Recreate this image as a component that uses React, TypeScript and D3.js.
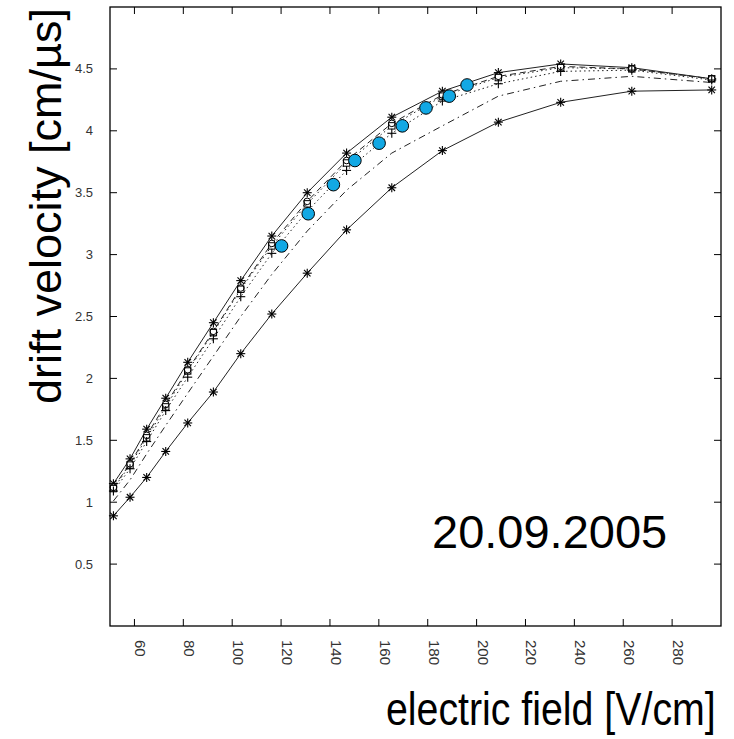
import React from "react";
import * as d3 from "d3";

const fieldValues = [51.4, 58.2, 65.0, 72.8, 81.8, 92.3, 103.5, 116.2, 130.7, 146.8, 165.3, 186.0, 208.9, 234.4, 263.5, 296.2];
const seriesTopStar = [1.15, 1.35, 1.59, 1.84, 2.13, 2.45, 2.79, 3.15, 3.50, 3.82, 4.11, 4.32, 4.47, 4.54, 4.51, 4.42];
const seriesCircle = [1.12, 1.31, 1.54, 1.79, 2.07, 2.38, 2.73, 3.09, 3.43, 3.76, 4.06, 4.29, 4.44, 4.52, 4.50, 4.42];
const seriesSquare = [1.11, 1.30, 1.52, 1.77, 2.06, 2.37, 2.72, 3.07, 3.41, 3.74, 4.04, 4.28, 4.43, 4.51, 4.50, 4.42];
const seriesPlus = [1.09, 1.27, 1.49, 1.74, 2.01, 2.32, 2.66, 3.01, 3.35, 3.68, 3.98, 4.24, 4.38, 4.48, 4.49, 4.41];
const seriesDashDot = [1.01, 1.18, 1.39, 1.62, 1.88, 2.18, 2.50, 2.84, 3.19, 3.52, 3.82, 4.04, 4.28, 4.40, 4.44, 4.39];
const seriesBottomStar = [0.89, 1.04, 1.20, 1.41, 1.64, 1.89, 2.20, 2.52, 2.85, 3.20, 3.54, 3.84, 4.07, 4.23, 4.32, 4.33];

const measuredField = [120.2, 131.1, 141.4, 150.2, 160.1, 169.6, 179.3, 188.8, 196.1];
const measuredVelocity = [3.07, 3.33, 3.565, 3.76, 3.90, 4.04, 4.185, 4.28, 4.37];

const xTicks = [60, 80, 100, 120, 140, 160, 180, 200, 220, 240, 260, 280];
const yTicks = [0.5, 1, 1.5, 2, 2.5, 3, 3.5, 4, 4.5];

const W = 734, H = 739;
const L = 110, R = 721, T = 7, B = 626;
const FONT = "'Liberation Sans', Arial, Helvetica, sans-serif";

type Marker = "star" | "circle" | "square" | "plus" | "none";

const series: { values: number[]; dash: string; marker: Marker }[] = [
  { values: seriesTopStar, dash: "none", marker: "star" },
  { values: seriesCircle, dash: "6,4", marker: "circle" },
  { values: seriesSquare, dash: "1.5,3", marker: "square" },
  { values: seriesPlus, dash: "1.5,3", marker: "plus" },
  { values: seriesDashDot, dash: "7,4,1.5,4", marker: "none" },
  { values: seriesBottomStar, dash: "none", marker: "star" },
];

function MarkerShape({ kind, cx, cy }: { kind: Marker; cx: number; cy: number }) {
  const s = 4.5;
  const st = { stroke: "#000", strokeWidth: 1.1, fill: "none" };
  if (kind === "star") {
    const d = s * 0.72;
    return (
      <g {...st}>
        <line x1={cx} y1={cy - s} x2={cx} y2={cy + s} />
        <line x1={cx - s} y1={cy} x2={cx + s} y2={cy} />
        <line x1={cx - d} y1={cy - d} x2={cx + d} y2={cy + d} />
        <line x1={cx - d} y1={cy + d} x2={cx + d} y2={cy - d} />
      </g>
    );
  }
  if (kind === "plus") {
    return (
      <g {...st}>
        <line x1={cx} y1={cy - s} x2={cx} y2={cy + s} />
        <line x1={cx - s} y1={cy} x2={cx + s} y2={cy} />
      </g>
    );
  }
  if (kind === "circle") {
    return <circle cx={cx} cy={cy} r={3.3} stroke="#000" strokeWidth={1} fill="#fff" />;
  }
  if (kind === "square") {
    return <rect x={cx - 3.2} y={cy - 3.2} width={6.4} height={6.4} stroke="#000" strokeWidth={1} fill="none" />;
  }
  return null;
}

export default function App() {
  const x = d3.scaleLinear().domain([50, 300]).range([L, R]);
  const y = d3.scaleLinear().domain([0, 5]).range([B, T]);
  const line = d3
    .line<number>()
    .x((_, i) => x(fieldValues[i]))
    .y((v) => y(v));

  return (
    <svg
      width={W}
      height={H}
      style={{ position: "absolute", left: 0, top: 0, background: "#fff" }}
      viewBox={`0 0 ${W} ${H}`}
    >
      <rect x={0} y={0} width={W} height={H} fill="#fff" />
      {series.map((s, i) => (
        <path
          key={"l" + i}
          d={line(s.values) || ""}
          fill="none"
          stroke="#222"
          strokeWidth={1}
          strokeDasharray={s.dash === "none" ? undefined : s.dash}
        />
      ))}
      {series.map((s, i) =>
        s.values.map((v, j) => (
          <MarkerShape key={`m${i}-${j}`} kind={s.marker} cx={x(fieldValues[j])} cy={y(v)} />
        ))
      )}
      {measuredField.map((f, i) => (
        <circle
          key={"b" + i}
          cx={x(f)}
          cy={y(measuredVelocity[i])}
          r={6.3}
          fill="#12A8E4"
          stroke="#000"
          strokeWidth={1}
        />
      ))}
      <rect x={L} y={T} width={R - L} height={B - T} fill="none" stroke="#000" strokeWidth={1.3} />
      {xTicks.map((t) => (
        <g key={"xt" + t}>
          <line x1={x(t)} x2={x(t)} y1={B} y2={B - 7} stroke="#000" strokeWidth={1} />
          <line x1={x(t)} x2={x(t)} y1={T} y2={T + 7} stroke="#000" strokeWidth={1} />
          <text
            transform={`translate(${x(t) + 1},${640}) rotate(90)`}
            fontFamily={FONT}
            fontSize={15}
            fill="#333"
            textAnchor="start"
          >
            {t}
          </text>
        </g>
      ))}
      {yTicks.map((t) => (
        <g key={"yt" + t}>
          <line x1={L} x2={L + 7} y1={y(t)} y2={y(t)} stroke="#000" strokeWidth={1} />
          <line x1={R} x2={R - 7} y1={y(t)} y2={y(t)} stroke="#000" strokeWidth={1} />
          <text
            x={93}
            y={y(t)}
            dy="0.35em"
            fontFamily={FONT}
            fontSize={13}
            fill="#333"
            textAnchor="end"
          >
            {t}
          </text>
        </g>
      ))}
      <text
        transform="translate(61,404) rotate(-90)"
        fontFamily={FONT}
        fontSize={45}
        fill="#000"
      >
        drift velocity [cm/µs]
      </text>
      <text
        transform="translate(386,725) scale(1,1.16)"
        fontFamily={FONT}
        fontSize={39.3}
        fill="#000"
      >
        electric field [V/cm]
      </text>
      <text
        x={432}
        y={548}
        fontFamily={FONT}
        fontSize={47}
        fill="#000"
      >
        20.09.2005
      </text>
    </svg>
  );
}
